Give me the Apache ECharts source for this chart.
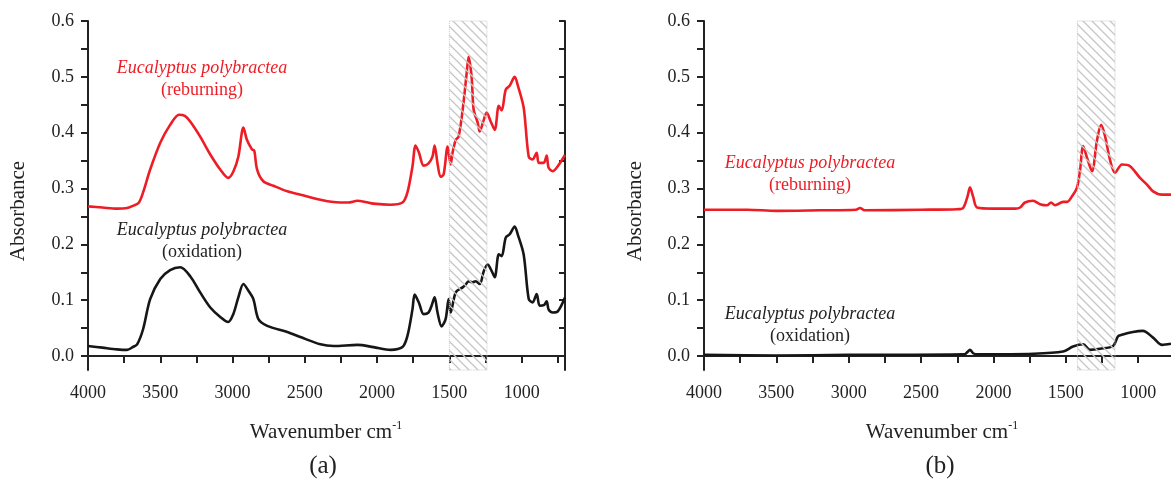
<!DOCTYPE html>
<html>
<head>
<meta charset="utf-8">
<script src="https://cdn.jsdelivr.net/npm/echarts@6/dist/echarts.min.js"></script>
<style>
  html, body { margin: 0; padding: 0; background: #fff; }
  #chart { width: 1171px; height: 482px; }
</style>
</head>
<body>
<div id="chart"></div>
<script>
// panel (a) reburning
var redA_wn = [4000, 3900, 3800, 3730, 3690, 3650, 3619, 3570, 3500, 3432, 3370, 3330, 3293, 3224, 3154, 3085, 3030, 2995, 2960, 2925, 2900, 2865, 2850, 2830, 2787, 2718, 2621, 2530, 2392, 2302, 2200, 2136, 2080, 2025, 1907, 1824, 1790, 1755, 1734, 1710, 1678, 1644, 1617, 1602, 1582, 1561, 1540, 1512, 1491, 1478, 1456, 1436, 1408, 1380, 1367, 1346, 1332, 1304, 1290, 1262, 1242, 1214, 1186, 1158, 1138, 1110, 1083, 1048, 1027, 986, 951, 924, 896, 882, 847, 827, 813, 785, 750, 700]
var redA_abs = [0.268, 0.266, 0.264, 0.265, 0.269, 0.274, 0.293, 0.334, 0.382, 0.414, 0.432, 0.430, 0.42, 0.393, 0.361, 0.334, 0.319, 0.33, 0.357, 0.409, 0.387, 0.37, 0.368, 0.334, 0.313, 0.305, 0.295, 0.289, 0.280, 0.276, 0.275, 0.278, 0.276, 0.273, 0.271, 0.275, 0.293, 0.34, 0.377, 0.364, 0.341, 0.345, 0.357, 0.377, 0.345, 0.321, 0.325, 0.375, 0.343, 0.364, 0.387, 0.393, 0.441, 0.507, 0.536, 0.5, 0.441, 0.418, 0.402, 0.423, 0.436, 0.42, 0.405, 0.448, 0.44, 0.477, 0.484, 0.5, 0.485, 0.445, 0.357, 0.352, 0.364, 0.346, 0.346, 0.359, 0.337, 0.331, 0.34, 0.36]
// panel (a) oxidation
var blackA_wn = [4000, 3900, 3800, 3730, 3690, 3660, 3619, 3570, 3500, 3432, 3362, 3293, 3224, 3154, 3085, 3030, 2995, 2960, 2925, 2890, 2856, 2821, 2760, 2621, 2531, 2392, 2300, 2136, 2025, 1907, 1824, 1790, 1755, 1740, 1710, 1678, 1644, 1623, 1602, 1582, 1554, 1526, 1505, 1491, 1456, 1408, 1387, 1367, 1339, 1318, 1290, 1262, 1235, 1207, 1186, 1158, 1138, 1110, 1083, 1048, 1027, 986, 951, 924, 896, 875, 847, 827, 813, 785, 750, 700]
var blackA_abs = [0.018, 0.015, 0.012, 0.011, 0.016, 0.021, 0.048, 0.102, 0.138, 0.154, 0.159, 0.143, 0.114, 0.087, 0.07, 0.061, 0.075, 0.105, 0.129, 0.117, 0.102, 0.066, 0.054, 0.043, 0.034, 0.021, 0.018, 0.02, 0.016, 0.011, 0.016, 0.036, 0.084, 0.11, 0.095, 0.075, 0.078, 0.09, 0.105, 0.078, 0.053, 0.066, 0.102, 0.078, 0.114, 0.123, 0.128, 0.134, 0.132, 0.134, 0.129, 0.152, 0.164, 0.152, 0.141, 0.182, 0.179, 0.212, 0.218, 0.232, 0.218, 0.182, 0.102, 0.096, 0.111, 0.09, 0.091, 0.098, 0.083, 0.078, 0.08, 0.105]
// panel (b) reburning
var redB_wn = [4000, 3700, 3500, 3200, 2950, 2922, 2890, 2500, 2250, 2210, 2180, 2162, 2140, 2113, 2000, 1850, 1816, 1782, 1726, 1678, 1630, 1602, 1574, 1519, 1491, 1457, 1422, 1401, 1380, 1353, 1319, 1284, 1256, 1229, 1195, 1160, 1112, 1056, 987, 939, 897, 835, 773]
var redB_abs = [0.262, 0.262, 0.260, 0.261, 0.262, 0.265, 0.261, 0.262, 0.263, 0.265, 0.285, 0.302, 0.285, 0.266, 0.264, 0.264, 0.266, 0.275, 0.278, 0.272, 0.27, 0.275, 0.27, 0.276, 0.276, 0.286, 0.302, 0.334, 0.376, 0.355, 0.331, 0.387, 0.414, 0.394, 0.352, 0.328, 0.343, 0.34, 0.319, 0.307, 0.295, 0.289, 0.289]
// panel (b) oxidation
var blackB_wn = [4000, 3500, 3000, 2200, 2180, 2162, 2140, 2113, 1726, 1519, 1450, 1380, 1333, 1263, 1173, 1140, 1112, 1036, 967, 897, 835, 773]
var blackB_abs = [0.002, 0.001, 0.002, 0.003, 0.007, 0.011, 0.005, 0.003, 0.004, 0.008, 0.017, 0.021, 0.011, 0.013, 0.018, 0.035, 0.038, 0.043, 0.045, 0.033, 0.02, 0.022]

var hatchA = [1500, 1240]
var hatchB = [1420, 1160]
var xLabels = [1000, 1500, 2000, 2500, 3000, 3500, 4000]
var xTicks = [750, 1000, 1250, 1500, 1750, 2000, 2250, 2500, 2750, 3000, 3250, 3500, 3750, 4000]
var yLabels = [0, 0.1, 0.2, 0.3, 0.4, 0.5, 0.6]
var yTicks = [0, 0.05, 0.1, 0.15, 0.2, 0.25, 0.3, 0.35, 0.4, 0.45, 0.5, 0.55, 0.6]

var RED = '#ee1c25'
var BLACK = '#161616'
var FONT = 'Liberation Serif'

function zip(a, b) {
  return a.map(function (v, i) { return [v, b[i]] })
}

// diagonal hatch pattern
function hatchPattern() {
  var c = document.createElement('canvas')
  c.width = 9
  c.height = 9
  var ctx = c.getContext('2d')
  ctx.strokeStyle = '#c6c6c6'
  ctx.lineWidth = 1.3
  ctx.beginPath()
  ctx.moveTo(-2, -2); ctx.lineTo(11, 11)
  ctx.moveTo(-11, -2); ctx.lineTo(2, 11)
  ctx.moveTo(7, -2); ctx.lineTo(20, 11)
  ctx.stroke()
  return { image: c, repeat: 'repeat' }
}

function xAxes(gi, min) {
  var base = {
    type: 'value', gridIndex: gi, min: min, max: 4000, inverse: true,
    splitLine: { show: false },
    axisLine: { lineStyle: { color: '#222', width: 2 } }
  }
  return [
    Object.assign({}, base, {
      position: 'bottom',
      axisTick: { inside: false, length: 7, customValues: xTicks, lineStyle: { width: 2, color: '#222' } },
      axisLabel: {
        customValues: xLabels, margin: 14, fontFamily: FONT, fontSize: 18, color: '#222',
        formatter: function (v) { return String(v) }
      }
    }),
    Object.assign({}, base, {
      position: 'top',
      axisTick: { inside: true, length: 6, customValues: xTicks, lineStyle: { width: 2, color: '#222' } },
      axisLabel: { show: false }
    })
  ]
}

function yAxes(gi, showRight) {
  var base = {
    type: 'value', gridIndex: gi, min: -0.025, max: 0.6,
    splitLine: { show: false },
    axisLine: { lineStyle: { color: '#222', width: 2 } }
  }
  return [
    Object.assign({}, base, {
      position: 'left',
      axisTick: { inside: false, length: 7, customValues: yTicks, lineStyle: { width: 2, color: '#222' } },
      axisLabel: {
        customValues: yLabels, margin: 14, fontFamily: FONT, fontSize: 18, color: '#222',
        formatter: function (v) { return v.toFixed(1) }
      }
    }),
    Object.assign({}, base, {
      position: 'right', show: showRight,
      axisTick: { inside: true, length: 6, customValues: yTicks, lineStyle: { width: 2, color: '#222' } },
      axisLabel: { show: false }
    })
  ]
}

function line(xi, yi, data, color) {
  return {
    type: 'line', xAxisIndex: xi, yAxisIndex: yi, data: data,
    showSymbol: false, smooth: 0.3, z: 2,
    lineStyle: { color: color, width: 2.6 }
  }
}

function hatch(xi, yi, range) {
  return {
    type: 'line', xAxisIndex: xi, yAxisIndex: yi, data: [], z: 10,
    markArea: {
      silent: true, z: 10,
      itemStyle: { color: hatchPattern(), borderColor: '#c8c8c8', borderWidth: 1, borderType: 'dotted' },
      data: [[{ xAxis: range[0] }, { xAxis: range[1] }]]
    }
  }
}

function note(x, y, text, color, italic) {
  return {
    type: 'text', x: x, y: y, z: 20,
    style: {
      text: text, fill: color, align: 'center', verticalAlign: 'middle',
      font: (italic ? 'italic ' : '') + '18px "' + FONT + '"'
    }
  }
}

function vlabel(x, y, text) {
  return {
    type: 'text', x: x, y: y, rotation: Math.PI / 2, z: 20,
    style: { text: text, fill: '#222', align: 'center', verticalAlign: 'middle', font: '21px "' + FONT + '"' }
  }
}

function xname(x, y) {
  return {
    type: 'text', x: x, y: y, z: 20,
    style: {
      text: 'Wavenumber cm{sup|-1}', fill: '#222', align: 'center', verticalAlign: 'middle',
      font: '21px "' + FONT + '"',
      rich: { sup: { fontSize: 12, fontFamily: FONT, verticalAlign: 'top', padding: [0, 0, 12, 0], fill: '#222' } }
    }
  }
}

var chart = echarts.init(document.getElementById('chart'), null, { renderer: 'canvas' })
chart.setOption({
  animation: false,
  backgroundColor: '#fff',
  grid: [
    { left: 88, top: 21, width: 477, height: 349 },
    { left: 704, top: 21, width: 467, height: 349 }
  ],
  xAxis: xAxes(0, 700).concat(xAxes(1, 773)),
  yAxis: yAxes(0, true).concat(yAxes(1, false)),
  series: [
    line(0, 0, zip(redA_wn, redA_abs), RED),
    line(0, 0, zip(blackA_wn, blackA_abs), BLACK),
    hatch(0, 0, hatchA),
    line(2, 2, zip(redB_wn, redB_abs), RED),
    line(2, 2, zip(blackB_wn, blackB_abs), BLACK),
    hatch(2, 2, hatchB)
  ],
  graphic: [
    note(202, 68, 'Eucalyptus polybractea', RED, true),
    note(202, 90, '(reburning)', RED, false),
    note(202, 230, 'Eucalyptus polybractea', '#222', true),
    note(202, 252, '(oxidation)', '#222', false),
    note(810, 163, 'Eucalyptus polybractea', RED, true),
    note(810, 185, '(reburning)', RED, false),
    note(810, 314, 'Eucalyptus polybractea', '#222', true),
    note(810, 336, '(oxidation)', '#222', false),
    vlabel(18, 211, 'Absorbance'),
    vlabel(635, 211, 'Absorbance'),
    xname(326, 432),
    xname(942, 432),
    { type: 'text', x: 323, y: 466, style: { text: '(a)', fill: '#222', align: 'center', verticalAlign: 'middle', font: '25px "' + FONT + '"' } },
    { type: 'text', x: 940, y: 466, style: { text: '(b)', fill: '#222', align: 'center', verticalAlign: 'middle', font: '25px "' + FONT + '"' } }
  ]
})
</script>
</body>
</html>
